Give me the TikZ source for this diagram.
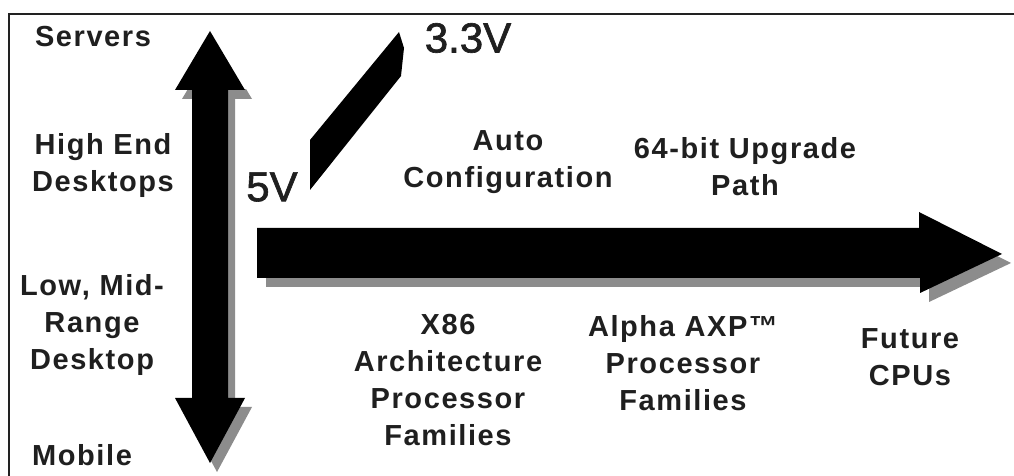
\documentclass[tikz,border=0pt]{standalone}
\usepackage{fontspec}
\setmainfont{Liberation Sans}
\newfontfamily\lblfont[LetterSpace=5.5]{Liberation Sans}
\newfontfamily\voltfont[FakeBold=1.5]{Liberation Sans}
\definecolor{shadowgray}{HTML}{8C8C8C}
\definecolor{framecol}{HTML}{222222}
\begin{document}
\begin{tikzpicture}[x=0.5pt,y=-0.5pt,
  lbl/.style={font=\lblfont\bfseries\fontsize{14.5}{18.5}\selectfont, align=center, inner sep=0pt, text=black!88},
  volt/.style={font=\voltfont\fontsize{21}{24}\selectfont, inner sep=0pt, text=black!88},
  varrow/.style={insert path={(210,31) -- (245,90) -- (228,90) -- (228,398) -- (245,398) -- (210,463) -- (175,398) -- (192,398) -- (192,90) -- (175,90) -- cycle}},
  harrow/.style={insert path={(257,228) -- (919,228) -- (919,212) -- (1002,254) -- (920,293) -- (920,278) -- (257,278) -- cycle}},
  shadowshape/.style={fill=shadowgray},
  arrowshape/.style={fill=black}]
\useasboundingbox (0,0) rectangle (1014,476);
\fill[white] (0,0) rectangle (1014,476);
\draw[framecol, line width=1pt] (9,480) -- (9,14) -- (1020,14);

% vertical arrow (shadow only below the upper head base)
\begin{scope}
  \clip (0,90) rectangle (1014,476);
  \fill[shadowshape, shift={(7,9)}] [varrow];
\end{scope}
\fill[arrowshape] [varrow];
% horizontal arrow
\fill[shadowshape, shift={(9,9)}] [harrow];
\fill[arrowshape] [harrow];
% voltage ramp
\fill[arrowshape] (310,140) -- (399,32) -- (404,48) -- (401,76) -- (310,190) -- cycle;

\node[lbl] (servers) at (93,37) {Servers};
\node[lbl] (highend) at (103,166) {High End\\Desktops};
\node[lbl] (lowmid) at (92,325) {Low, Mid-\\Range\\Desktop};
\node[lbl] (mobile) at (82,455) {Mobile};
\node[volt] (fivev) at (272,187) {5V};
\node[volt] (threev) at (468,38) {3.3V};
\node[lbl] (auto) at (508,162) {Auto\\Configuration};
\node[lbl] (upgrade) at (745,167) {64-bit Upgrade\\Path};
\node[lbl] (x86) at (448,380) {X86\\Architecture\\Processor\\Families};
\node[lbl] (alpha) at (683,363) {Alpha AXP™\\Processor\\Families};
\node[lbl] (future) at (910,357) {Future\\CPUs};
\end{tikzpicture}
\end{document}
